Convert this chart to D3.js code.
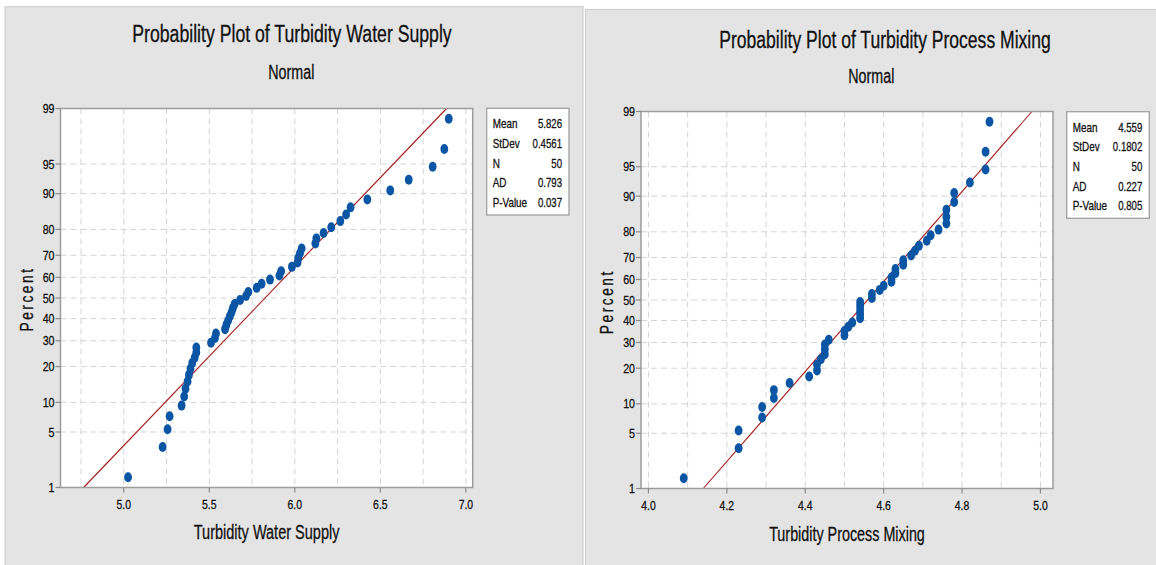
<!DOCTYPE html>
<html>
<head>
<meta charset="utf-8">
<script src="https://cdn.jsdelivr.net/npm/d3@7"></script>
<style>
  html, body { margin: 0; padding: 0; background: #ffffff; }
  svg { display: block; }
  text { font-family: "Liberation Sans", Arial, sans-serif; fill: #111; stroke: #111; stroke-width: 0.3px; }
</style>
</head>
<body>
<svg id="chart" width="1156" height="565"></svg>
<script>
// ---------------- data ----------------
const waterSupplyValues = [
  5.025, 5.227, 5.256, 5.268, 5.338, 5.353, 5.361, 5.373, 5.381, 5.390,
  5.400, 5.415, 5.424, 5.424, 5.510, 5.533, 5.539, 5.592, 5.600, 5.610,
  5.620, 5.630, 5.638, 5.648, 5.680, 5.715, 5.728, 5.777, 5.806, 5.855,
  5.910, 5.920, 5.983, 6.016, 6.020, 6.030, 6.040, 6.120, 6.126, 6.168,
  6.213, 6.266, 6.300, 6.326, 6.424, 6.558, 6.666, 6.806, 6.874, 6.900
];
const processMixingValues = [
  4.09, 4.23, 4.23, 4.29, 4.29, 4.32, 4.32, 4.36, 4.41, 4.43,
  4.43, 4.44, 4.45, 4.45, 4.45, 4.46, 4.50, 4.50, 4.51, 4.52,
  4.54, 4.54, 4.54, 4.54, 4.54, 4.57, 4.57, 4.59, 4.60, 4.62,
  4.62, 4.63, 4.63, 4.65, 4.65, 4.67, 4.68, 4.69, 4.71, 4.72,
  4.74, 4.76, 4.76, 4.76, 4.78, 4.78, 4.82, 4.86, 4.86, 4.87
];
const percentTicks = [1, 5, 10, 20, 30, 40, 50, 60, 70, 80, 90, 95, 99];
const percentGrid  = [5, 10, 20, 30, 40, 50, 60, 70, 80, 90, 95];
const waterXTicks  = [5.0, 5.5, 6.0, 6.5, 7.0];
const waterXGrid   = [4.75, 5.0, 5.25, 5.5, 5.75, 6.0, 6.25, 6.5, 6.75, 7.0];
const mixingXTicks = [4.0, 4.2, 4.4, 4.6, 4.8, 5.0];
const mixingXGrid  = [4.0, 4.1, 4.2, 4.3, 4.4, 4.5, 4.6, 4.7, 4.8, 4.9, 5.0];
const statLabels   = ["Mean", "StDev", "N", "AD", "P-Value"];
const waterStats   = ["5.826", "0.4561", "50", "0.793", "0.037"];
const mixingStats  = ["4.559", "0.1802", "50", "0.227", "0.805"];
const waterFit     = [5.826, 0.4561];
const mixingFit    = [4.559, 0.1802];

// ---------------- helpers ----------------
// inverse standard normal CDF (Acklam)
function qnorm(p) {
  const a = [-3.969683028665376e+01, 2.209460984245205e+02, -2.759285104469687e+02,
             1.383577518672690e+02, -3.066479806614716e+01, 2.506628277459239e+00];
  const b = [-5.447609879822406e+01, 1.615858368580409e+02, -1.556989798598866e+02,
             6.680131188771972e+01, -1.328068155288572e+01];
  const c = [-7.784894002430293e-03, -3.223964580411365e-01, -2.400758277161838e+00,
             -2.549671010952162e+00, 4.374664141464968e+00, 2.938163982698783e+00];
  const d = [7.784695709041462e-03, 3.224671290700398e-01, 2.445134137142996e+00,
             3.754408661907416e+00];
  const pl = 0.02425, ph = 1 - pl;
  let q, r;
  if (p < pl) {
    q = Math.sqrt(-2 * Math.log(p));
    return (((((c[0]*q+c[1])*q+c[2])*q+c[3])*q+c[4])*q+c[5]) /
           ((((d[0]*q+d[1])*q+d[2])*q+d[3])*q+1);
  } else if (p <= ph) {
    q = p - 0.5; r = q * q;
    return (((((a[0]*r+a[1])*r+a[2])*r+a[3])*r+a[4])*r+a[5])*q /
           (((((b[0]*r+b[1])*r+b[2])*r+b[3])*r+b[4])*r+1);
  } else {
    q = Math.sqrt(-2 * Math.log(1 - p));
    return -(((((c[0]*q+c[1])*q+c[2])*q+c[3])*q+c[4])*q+c[5]) /
            ((((d[0]*q+d[1])*q+d[2])*q+d[3])*q+1);
  }
}
function condense(sel, k) {
  sel.each(function () {
    const w = this.getComputedTextLength();
    this.setAttribute("textLength", (w * k).toFixed(2));
    this.setAttribute("lengthAdjust", "spacingAndGlyphs");
  });
}
function fixWidth(sel, w) {
  sel.attr("textLength", w).attr("lengthAdjust", "spacingAndGlyphs");
}

const svg = d3.select("#chart");

function drawPanel(cfg) {
  const g = svg.append("g");
  // panel background
  g.append("rect")
    .attr("x", cfg.panel[0]).attr("y", cfg.panel[1])
    .attr("width", cfg.panel[2]).attr("height", cfg.panel[3])
    .attr("fill", "#e4e4e4").attr("stroke", "#cfcfcf").attr("stroke-width", 1.2);

  const [L, T, R, B] = cfg.plot;
  const x = d3.scaleLinear().domain(cfg.xDomain).range([L, R]);
  const pToZ = p => qnorm(p / 100);
  const zLim = qnorm(0.99);
  const yz = d3.scaleLinear().domain([-zLim, zLim]).range([B, T]);
  const y = p => yz(pToZ(p));

  // plot area
  g.append("rect").attr("x", L).attr("y", T).attr("width", R - L).attr("height", B - T)
    .attr("fill", "#ffffff");

  // grid
  const grid = g.append("g").attr("stroke", "#d4d4d4").attr("stroke-width", 1)
    .attr("stroke-dasharray", "6,4");
  grid.selectAll("line.h").data(percentGrid).join("line").attr("class", "h")
    .attr("x1", L).attr("x2", R).attr("y1", d => y(d)).attr("y2", d => y(d));
  grid.selectAll("line.v").data(cfg.xGrid).join("line").attr("class", "v")
    .attr("x1", d => x(d)).attr("x2", d => x(d)).attr("y1", T).attr("y2", B);

  // fitted line from 1% to 99%
  const [mu, sd] = cfg.fit;
  const fitPts = [-zLim, zLim].map(z => [mu + z * sd, z]);
  g.append("path")
    .attr("d", d3.line().x(d => x(d[0])).y(d => yz(d[1]))(fitPts))
    .attr("stroke", "#a31a16").attr("stroke-width", 1.1).attr("fill", "none");

  // points (Benard median ranks)
  const sorted = cfg.values.slice().sort(d3.ascending);
  const n = sorted.length;
  const pts = sorted.map((v, i) => ({ v, p: 100 * (i + 1 - 0.3) / (n + 0.4) }));
  g.append("g").selectAll("ellipse").data(pts).join("ellipse")
    .attr("cx", d => x(d.v)).attr("cy", d => y(d.p))
    .attr("rx", 3.9).attr("ry", 5).attr("fill", "#0a56a5");

  // frame
  g.append("rect").attr("x", L).attr("y", T).attr("width", R - L).attr("height", B - T)
    .attr("fill", "none").attr("stroke", "#9c9c9c").attr("stroke-width", 1.5);

  // y ticks & labels
  const yt = g.append("g");
  yt.selectAll("line").data(percentTicks).join("line")
    .attr("x1", L - 5).attr("x2", L).attr("y1", d => y(d)).attr("y2", d => y(d))
    .attr("stroke", "#8a8a8a").attr("stroke-width", 1.2);
  const ylab = yt.selectAll("text").data(percentTicks).join("text")
    .attr("x", L - 6).attr("y", d => y(d) + 4.6).attr("text-anchor", "end")
    .attr("font-size", 13).text(d => d);
  condense(ylab, 0.82);

  // x ticks & labels
  const xt = g.append("g");
  xt.selectAll("line").data(cfg.xTicks).join("line")
    .attr("x1", d => x(d)).attr("x2", d => x(d)).attr("y1", B).attr("y2", B + 5)
    .attr("stroke", "#8a8a8a").attr("stroke-width", 1.2);
  const xlab = xt.selectAll("text").data(cfg.xTicks).join("text")
    .attr("x", d => x(d)).attr("y", B + 21).attr("text-anchor", "middle")
    .attr("font-size", 13).text(d => d.toFixed(1));
  condense(xlab, 0.8);

  // titles
  fixWidth(g.append("text").attr("x", cfg.title[0]).attr("y", cfg.title[1])
    .attr("text-anchor", "middle").attr("font-size", 23).text(cfg.title[2]), cfg.title[3]);
  fixWidth(g.append("text").attr("x", cfg.sub[0]).attr("y", cfg.sub[1])
    .attr("text-anchor", "middle").attr("font-size", 20).text("Normal"), 46);
  fixWidth(g.append("text").attr("x", (L + R) / 2).attr("y", cfg.xTitle[0])
    .attr("text-anchor", "middle").attr("font-size", 20).text(cfg.xTitle[1]), cfg.xTitle[2]);
  fixWidth(g.append("text")
    .attr("transform", `translate(${cfg.yTitle[0]},${cfg.yTitle[1]}) rotate(-90)`)
    .attr("text-anchor", "middle").attr("font-size", 19).attr("letter-spacing", 3.5)
    .text("Percent"), 65);

  // stats box
  const [bx, by, bw, bh] = cfg.box;
  g.append("rect").attr("x", bx).attr("y", by).attr("width", bw).attr("height", bh)
    .attr("fill", "#ffffff").attr("stroke", "#a0a0a0").attr("stroke-width", 1.3);
  const sl = g.append("g").selectAll("text").data(statLabels).join("text")
    .attr("x", bx + 6).attr("y", (d, i) => by + 20 + i * 19.6)
    .attr("font-size", 13).text(d => d);
  condense(sl, 0.76);
  const sv = g.append("g").selectAll("text").data(cfg.stats).join("text")
    .attr("x", bx + bw - 7).attr("y", (d, i) => by + 20 + i * 19.6)
    .attr("text-anchor", "end").attr("font-size", 13).text(d => d);
  condense(sv, 0.74);
}

drawPanel({
  panel: [5, 6.7, 578, 570],
  plot: [60.5, 108.5, 472.7, 487.5],
  xDomain: [4.63, 7.04],
  xGrid: waterXGrid, xTicks: waterXTicks,
  values: waterSupplyValues, fit: waterFit, stats: waterStats,
  title: [292, 41.7, "Probability Plot of Turbidity Water Supply", 319.4],
  sub: [291.3, 79.3],
  xTitle: [539.3, "Turbidity Water Supply", 145.7],
  yTitle: [33, 299],
  box: [486.7, 108.3, 82.3, 106.7]
});
drawPanel({
  panel: [585.5, 9.5, 580, 570],
  plot: [641, 111.5, 1053, 488.5],
  xDomain: [3.981, 5.032],
  xGrid: mixingXGrid, xTicks: mixingXTicks,
  values: processMixingValues, fit: mixingFit, stats: mixingStats,
  title: [885, 48.3, "Probability Plot of Turbidity Process Mixing", 331.4],
  sub: [871.3, 83.3],
  xTitle: [541, "Turbidity Process Mixing", 155.7],
  yTitle: [613, 301.7],
  box: [1066.7, 111.7, 82.6, 106.6]
});
</script>
</body>
</html>
